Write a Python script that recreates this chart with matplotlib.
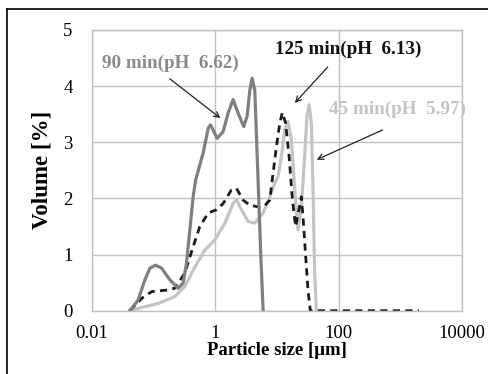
import numpy as np
import matplotlib.pyplot as plt
from matplotlib.lines import Line2D

# Particle size distributions (x in um, y in volume %)
size_90 = [0.041, 0.056, 0.072, 0.087, 0.107, 0.134, 0.183, 0.25, 0.30, 0.34, 0.386, 0.437, 0.48,
           0.635, 0.766, 0.836, 0.946, 1.07, 1.34, 1.61, 1.94, 2.34, 2.89, 3.27, 3.63, 3.95, 4.36,
           4.65, 4.93, 5.5, 5.96]
vol_90 = [0.0, 0.19, 0.55, 0.76, 0.81, 0.76, 0.55, 0.40, 0.49, 0.84, 1.44, 2.03, 2.33,
          2.81, 3.25, 3.31, 3.19, 3.07, 3.19, 3.52, 3.76, 3.52, 3.28, 3.46, 3.93, 4.14, 3.93,
          3.10, 2.33, 0.9, 0.0]

size_125 = [0.041, 0.064, 0.093, 0.172, 0.22, 0.32, 0.437, 0.56, 0.766, 1.05, 1.34, 1.82, 2.2,
            2.82, 3.62, 4.93, 6.3, 7.63, 8.64, 9.78, 11.1, 12.2, 13.8, 15.7, 17.8, 20.0, 22.7,
            24.8, 26.4, 29.2, 31.8, 34.7, 100, 500, 2000]
vol_125 = [0.0, 0.22, 0.34, 0.37, 0.40, 0.67, 1.14, 1.5, 1.74, 1.8, 1.91, 2.15, 2.18,
           1.97, 1.88, 1.85, 1.87, 1.97, 2.45, 2.92, 3.34, 3.53, 3.34, 2.75, 1.97, 1.5, 1.8,
           2.03, 1.68, 0.96, 0.37, 0.0, 0.0, 0.0, 0.0]

size_45 = [0.041, 0.072, 0.119, 0.22, 0.32, 0.466, 0.676, 0.98, 1.43, 1.94, 2.2, 2.5, 3.4, 4.36,
           5.96, 7.63, 9.2, 10.4, 11.8, 13.3, 15.1, 17.1, 19.4, 21.9, 24.8, 28.1, 30.6, 33.1,
           36.1, 38.4, 40.8, 43.5]
vol_45 = [0.0, 0.07, 0.13, 0.25, 0.43, 0.78, 1.08, 1.26, 1.56, 1.91, 1.98, 1.85, 1.59, 1.56,
          1.74, 2.03, 2.27, 2.39, 2.75, 3.22, 3.37, 3.04, 2.15, 1.44, 1.85, 2.75, 3.46, 3.67,
          3.34, 2.15, 0.67, 0.0]

x_ticks = [0.01, 1, 100, 10000]
x_tick_labels = ["0.01", "1", "100", "10000"]
y_ticks = [0, 1, 2, 3, 4, 5]

plt.rcParams['font.family'] = ['Liberation Serif', 'DejaVu Serif']

fig = plt.figure(figsize=(4.89, 3.74), dpi=100)
ax = fig.add_axes([92 / 489, 1 - 310.7 / 374, (462 - 92) / 489, (310.7 - 30) / 374])

ax.plot(size_45, vol_45, color='#c4c4c4', lw=2.3, solid_joinstyle='round')
ax.plot(size_125, vol_125, color='#1a1a1a', lw=2.0, ls=(0, (2.6, 1.9)))
ax.plot(size_90, vol_90, color='#7f7f7f', lw=2.3, solid_joinstyle='round')

ax.set_xscale('log')
ax.set_xlim(0.01, 10000)
ax.set_ylim(0, 5)
ax.set_xticks(x_ticks)
ax.set_xticklabels(x_tick_labels)
ax.minorticks_off()
ax.set_yticks(y_ticks)
ax.tick_params(length=0, labelsize=13.5)
ax.tick_params(axis='y', pad=14)
ax.tick_params(axis='x', pad=10)
ax.grid(True, color='#c0c0c0', lw=1)
ax.set_axisbelow(True)
for s in ax.spines.values():
    s.set_color('#c0c0c0')
    s.set_linewidth(1)

ax.set_xlabel("Particle size [\u03bcm]", fontsize=13.5, fontweight='bold', labelpad=0)
ax.set_ylabel("Volume [%]", fontsize=16.5, fontweight='bold', labelpad=8)

arrow = dict(arrowstyle='->', color='#222222', lw=0.9, shrinkA=0, shrinkB=0)
ax.text(0.0145, 4.40, "90 min(pH  6.62)", fontsize=13.8, fontweight='bold', color='#8a8a8a',
        ha='left', va='center')
ax.annotate("", xy=(1.21, 3.43), xytext=(0.183, 4.13), arrowprops=arrow)
ax.text(9.2, 4.66, "125 min(pH  6.13)", fontsize=13.8, fontweight='bold', color='#111111',
        ha='left', va='center')
ax.annotate("", xy=(19.4, 3.70), xytext=(66.4, 4.34), arrowprops=arrow)
ax.text(68.9, 3.58, "45 min(pH  5.97)", fontsize=13.8, fontweight='bold', color='#c4c4c4',
        ha='left', va='center')
ax.annotate("", xy=(44, 2.69), xytext=(516, 3.22), arrowprops=arrow)

# partial frame around the figure
fig.add_artist(Line2D([7 / 489, 7 / 489], [0, 1 - 9 / 374], color='black', lw=1.2))
fig.add_artist(Line2D([7 / 489, 1], [1 - 9 / 374, 1 - 9 / 374], color='black', lw=1.2))

fig.savefig("out.png", dpi=100)
